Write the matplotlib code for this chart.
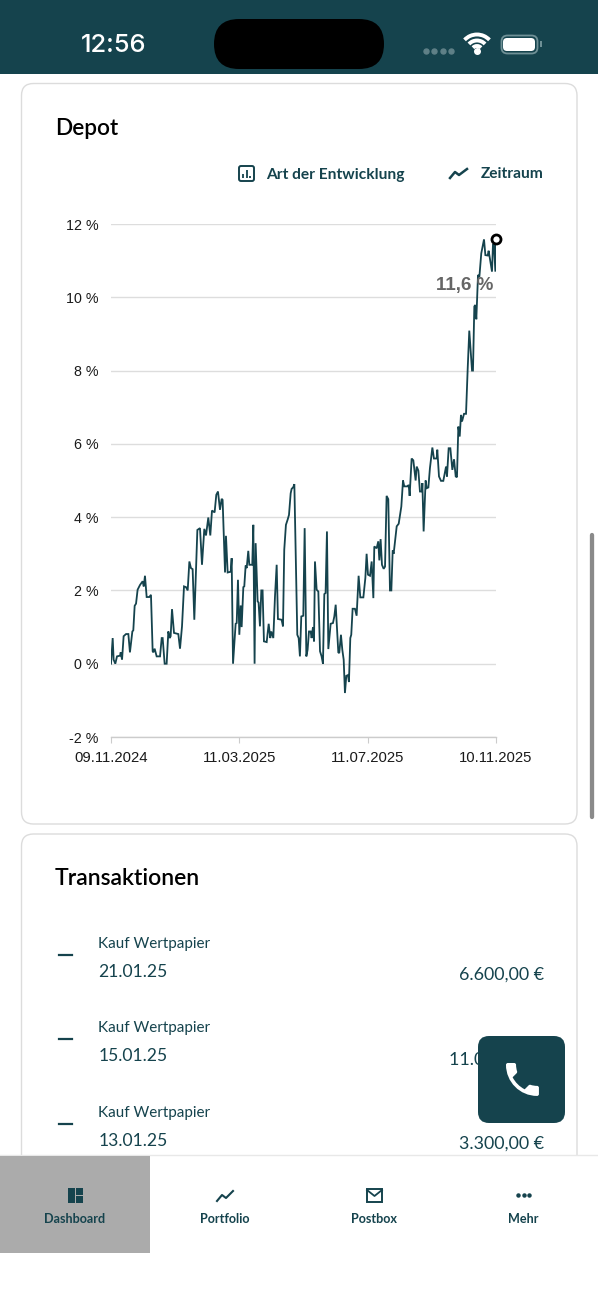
import matplotlib
matplotlib.use("Agg")
import matplotlib.pyplot as plt
from matplotlib.patches import FancyBboxPatch, Rectangle, Arc, PathPatch
from matplotlib.path import Path

TEAL = '#15434d'
UI_FONT = ['Lato', 'Noto Sans', 'DejaVu Sans']
CHART_FONT = ['Liberation Sans', 'DejaVu Sans']

# days since 09.11.2024
days = [0, 1.6, 2.5, 4.1, 5.7, 8.6, 9.2, 10.5, 12, 14.3, 16.5, 18, 20.3, 21.2, 22.5, 23.8, 25.3, 27.6, 30.1, 31.1,
        32.3, 33.9, 36.4, 38, 39.6, 40.2, 41.5, 43.4, 46.6, 48.2, 49.1, 51, 52.9, 54.5, 55.8, 56.7, 58, 59.9, 64, 65.6,
        67.5, 69.4, 71.3, 72.9, 74.5, 76, 77.6, 79.2, 82.1, 84.6, 86.5, 88.7, 90.3, 92.5, 94.4, 96, 98.5, 100.1, 101.7, 103.6,
        105.2, 106.1, 108.4, 109.3, 110.9, 113.8, 114.7, 116, 118.5, 119.5, 120.7, 122, 123.3, 124.2, 125.8, 126.7, 128, 129, 130.5, 131.5,
        134.3, 135.3, 136.5, 137.5, 139.4, 140.3, 141.6, 142.9, 144.1, 145.4, 148, 149.9, 151.4, 152.4, 154.3, 155.9, 157.5, 158.7, 162.2, 163.5,
        164.7, 166.3, 167.9, 169.2, 170.8, 171.7, 173.3, 174.3, 177.1, 178.4, 179.6, 180.9, 182.8, 184.1, 185.7, 186.9, 188.2, 189.8, 190.7, 192,
        193, 193.9, 195.5, 197.1, 198.7, 200.2, 201.5, 202.8, 204, 205.3, 206.6, 208.8, 211, 212.3, 213.6, 216.1, 217, 218.6, 219.9, 221.2,
        222.4, 223.7, 225.3, 226.2, 227.5, 228.4, 229.7, 231.9, 233.5, 235.4, 237, 239.9, 241.8, 243, 244.3, 246.2, 247.8, 249.4, 250.3, 252.5,
        254.1, 255.1, 256.3, 257.6, 259.2, 260.5, 262, 263.6, 265.2, 266.5, 267.8, 268.7, 271.6, 273.5, 276, 277.6, 278.8, 282, 283, 283.9,
        285.8, 287.4, 289.6, 290.6, 292.2, 293.7, 295.6, 296, 297.2, 299.1, 300.1, 301.7, 303.2, 305.5, 307, 309.6, 310.2, 311.8, 313.7, 315.9,
        318.5, 319.4, 321, 322.6, 324.5, 326.1, 327.7, 328.9, 330.2, 331.5, 332.7, 333.7, 335.6, 337.5, 339.1, 340.6, 343.2, 344.1, 345.4, 346.3,
        347.3, 348.9, 350.2, 352, 354.6, 355.9, 358.1, 359, 362.2, 363.1, 364.1, 365.4, 366]
depot = [0, 0.70, 0.11, 0, 0.20, 0.22, 0.31, 0.11, 0.75, 0.81, 0.81, 0.31, 0.88, 0.91, 1.58, 1.64, 2.02, 2.15, 2.25, 2.11,
         2.40, 1.82, 1.82, 1.88, 0.34, 0.31, 0.41, 0.20, 0.20, 0.70, 0.70, 0, 0, 0.88, 0.70, 0.75, 1.49, 0.84, 0.81, 0.41,
         1.02, 2.11, 2.09, 2.00, 2.79, 2.61, 2.58, 1.20, 3.65, 3.70, 2.70, 3.68, 3.50, 3.99, 3.50, 4.18, 4.13, 4.61, 4.70, 4.20,
         4.50, 4.47, 2.49, 3.49, 2.49, 2.51, 2.88, 0, 1.09, 1.11, 2.29, 0.79, 1.59, 1.00, 2.09, 2.11, 2.68, 2.61, 3.08, 2.70,
         2.70, 3.79, 0, 3.29, 1.70, 1.67, 1.02, 2.00, 2.00, 0.61, 0.59, 1.09, 0.70, 0.88, 0.70, 1.84, 2.70, 1.22, 1.20, 1.02,
         3.11, 3.79, 3.93, 4.06, 4.65, 4.77, 4.82, 4.90, 0.79, 0.70, 0.20, 1.29, 1.31, 3.70, 0.20, 0.38, 0.88, 0.88, 0.70, 1.00,
         0.61, 2.79, 2.02, 1.97, 0.34, 0.20, 0, 1.90, 1.93, 3.61, 0.40, 1.09, 1.11, 1.29, 1.61, 0.31, 0.29, 0.79, 0.38, 0.11,
         -0.80, -0.33, -0.31, -0.50, 0.70, 0.79, 1.50, 1.50, 1.31, 2.40, 1.81, 1.81, 2.34, 3.00, 2.43, 2.40, 2.79, 1.79, 3.20, 3.15,
         3.34, 2.82, 3.40, 2.70, 2.59, 2.65, 4.58, 4.49, 2.00, 2.00, 3.09, 3.00, 3.75, 3.82, 4.29, 5.00, 4.84, 4.84, 4.88, 4.58,
         5.60, 5.55, 5.00, 5.38, 5.27, 4.70, 4.70, 4.93, 3.61, 5.00, 4.79, 4.81, 5.34, 5.90, 5.60, 5.60, 5.84, 5.11, 4.99, 4.99,
         5.38, 5.11, 5.88, 5.88, 5.29, 5.58, 5.11, 5.09, 6.47, 6.20, 6.79, 6.61, 6.82, 6.82, 8.06, 9.09, 8.00, 8.00, 9.75, 9.79,
         9.40, 10.61, 10.56, 11.20, 11.58, 11.15, 11.14, 11.27, 10.70, 11.43, 11.43, 10.70, 11.60]

y_ticks = [-2, 0, 2, 4, 6, 8, 10, 12]
y_labels = ['-2 %', '0 %', '2 %', '4 %', '6 %', '8 %', '10 %', '12 %']
x_ticks = [0, 122, 244, 366]
x_labels = ['09.11.2024', '11.03.2025', '11.07.2025', '10.11.2025']
last_label = '11,6 %'

transactions = ['Kauf Wertpapier', 'Kauf Wertpapier', 'Kauf Wertpapier']
trans_dates = ['21.01.25', '15.01.25', '13.01.25']
trans_amounts = ['6.600,00 €', '11.000,00 €', '3.300,00 €']
nav_labels = ['Dashboard', 'Portfolio', 'Postbox', 'Mehr']

# phone glyph on a 24 unit grid
PHONE = [(6.62, 10.79), (8.06, 13.62), (10.38, 15.93), (13.21, 17.38), (15.41, 15.18),
         (15.68, 14.91), (16.08, 14.82), (16.43, 14.94), (17.55, 15.31), (18.76, 15.51), (20, 15.51),
         (20.55, 15.51), (21, 15.96), (21, 16.51), (21, 20), (21, 20.55), (20.55, 21), (20, 21),
         (10.61, 21), (3, 13.39), (3, 4), (3, 3.45), (3.45, 3), (4, 3), (7.5, 3),
         (8.05, 3), (8.5, 3.45), (8.5, 4), (8.5, 5.25), (8.7, 6.45), (9.07, 7.57),
         (9.18, 7.92), (9.1, 8.31), (8.82, 8.59), (6.62, 10.79)]
PHONE_CODES = [Path.MOVETO, Path.CURVE4, Path.CURVE4, Path.CURVE4, Path.LINETO,
               Path.CURVE4, Path.CURVE4, Path.CURVE4, Path.CURVE4, Path.CURVE4, Path.CURVE4,
               Path.CURVE4, Path.CURVE4, Path.CURVE4, Path.LINETO, Path.CURVE4, Path.CURVE4, Path.CURVE4,
               Path.CURVE4, Path.CURVE4, Path.CURVE4, Path.CURVE4, Path.CURVE4, Path.CURVE4, Path.LINETO,
               Path.CURVE4, Path.CURVE4, Path.CURVE4, Path.CURVE4, Path.CURVE4, Path.CURVE4,
               Path.CURVE4, Path.CURVE4, Path.CURVE4, Path.LINETO]

fig = plt.figure(figsize=(5.98, 13), dpi=100, facecolor='white')

# page, in pixel coordinates
ui = fig.add_axes([0, 0, 1, 1])
ui.set_xlim(0, 598)
ui.set_ylim(1300, 0)
ui.axis('off')


def card(x0, y0, x1, y1):
    ui.add_patch(FancyBboxPatch((x0 + 12, y0 + 12), x1 - x0 - 24, y1 - y0 - 24,
                                boxstyle='round,pad=12,rounding_size=12',
                                fc='white', ec='#dcdcdc', lw=1, zorder=1))


card(21.5, 83.5, 577, 824)
card(21.5, 834, 577, 1250)

# status bar
ui.add_patch(Rectangle((0, 0), 598, 73.5, fc=TEAL, ec='none', zorder=5))
ui.add_patch(FancyBboxPatch((232, 37), 134, 14, boxstyle='round,pad=18,rounding_size=25', fc='black', ec='none', zorder=6))
ui.text(113.5, 45.5, '12:56', color='white', fontsize=18.4, family=['Inter', 'DejaVu Sans'], fontweight='medium',
        ha='center', va='center', zorder=6)
ui.plot([426, 434.3, 442.7, 451], [50.7] * 4, ls='none', marker='o', ms=3.6, color='#5f8087', zorder=6)
for r in (17, 11, 5.5):
    ui.add_patch(Arc((477, 51.5), 2 * r, 2 * r, theta1=223, theta2=317, color='white', lw=2.8, zorder=6))
ui.plot([477], [51], marker='o', ms=4, color='white', zorder=6)
ui.add_patch(FancyBboxPatch((506, 40), 27, 9, boxstyle='round,pad=4.5,rounding_size=6', fc='none', ec='#6f9096', lw=1.3, zorder=6))
ui.add_patch(FancyBboxPatch((506, 41), 26, 7, boxstyle='round,pad=3,rounding_size=4', fc='white', ec='none', zorder=6))
ui.add_patch(Rectangle((540, 41), 2, 6, fc='#6f9096', ec='none', zorder=6))

# card headers
ui.text(55, 128.5, 'Depot', color='black', fontsize=16.3, family=UI_FONT, fontweight='semibold', ha='left', va='center', zorder=3)
ui.text(405, 174.5, 'Art der Entwicklung', color=TEAL, fontsize=11.2, family=UI_FONT, fontweight='bold', ha='right', va='center', zorder=3)
ui.text(544, 174.5, 'Zeitraum', color=TEAL, fontsize=11.2, family=UI_FONT, fontweight='bold', ha='right', va='center', zorder=3)
ui.add_patch(FancyBboxPatch((240, 167), 13, 13, boxstyle='round,pad=1,rounding_size=2', fc='none', ec=TEAL, lw=1.4, zorder=3))
ui.vlines([243, 246.5, 250], [174, 170, 176], [178, 178, 178], color=TEAL, lw=1.3, zorder=3)
ui.plot([450, 455, 459, 467], [178, 172, 175, 169], color=TEAL, lw=1.8, zorder=3)

ui.text(55, 878.5, 'Transaktionen', color='black', fontsize=16.5, family=UI_FONT, fontweight='semibold', ha='left', va='center', zorder=3)

# transaction rows
for i, (name, date, amount) in enumerate(zip(transactions, trans_dates, trans_amounts)):
    off = 84.3 * i
    ui.plot([59, 72], [955 + off, 955 + off], color=TEAL, lw=1.6, zorder=2)
    ui.text(98.5, 944 + off, name, color=TEAL, fontsize=11, family=UI_FONT, ha='left', va='center', zorder=2)
    ui.text(98.5, 972 + off, date, color=TEAL, fontsize=12.6, family=UI_FONT, ha='left', va='center', zorder=2)
    ui.text(544, 975 + off, amount, color=TEAL, fontsize=12.9, family=UI_FONT, ha='right', va='center', zorder=2)

# call button
ui.add_patch(FancyBboxPatch((488, 1046), 67, 67, boxstyle='round,pad=10,rounding_size=11', fc=TEAL, ec='none', zorder=7))
ui.add_patch(PathPatch(Path([(500.5 + 1.83 * x, 1057.5 + 1.83 * y) for x, y in PHONE], PHONE_CODES),
                       fc='white', ec='none', zorder=8))

# bottom navigation
ui.add_patch(Rectangle((0, 1155), 598, 145, fc='white', ec='none', zorder=4))
ui.plot([0, 598], [1155, 1155], color='#e8e8e8', lw=1, zorder=5)
ui.add_patch(Rectangle((0, 1156), 150, 97, fc='#ababab', ec='none', zorder=5))
for x, label in zip([75, 224.5, 374, 523], nav_labels):
    ui.text(x, 1219, label, color=TEAL, fontsize=9.1, family=UI_FONT, fontweight='bold', ha='center', va='center', zorder=6)
ui.add_patch(Rectangle((68, 1188), 6.5, 15, fc=TEAL, ec='none', zorder=6))
ui.add_patch(Rectangle((76, 1188), 6.5, 6.5, fc=TEAL, ec='none', zorder=6))
ui.add_patch(Rectangle((76, 1196), 6.5, 7, fc=TEAL, ec='none', zorder=6))
ui.plot([217, 222, 226, 233], [1201, 1195, 1198, 1191], color=TEAL, lw=1.5, zorder=6)
ui.add_patch(Rectangle((367, 1188.5), 15, 13, fc='none', ec=TEAL, lw=1.4, zorder=6))
ui.plot([367, 374.5, 382], [1190, 1196, 1190], color=TEAL, lw=1.3, zorder=6)
ui.plot([518, 523.5, 529], [1195, 1195, 1195], ls='none', marker='o', ms=2.2, color=TEAL, zorder=6)

# scroll indicator
ui.plot([591.7, 591.7], [535, 817], color='#8a8a8a', lw=3.1, solid_capstyle='round', zorder=3)

# chart
ax = fig.add_axes([111 / 598, 1 - 737 / 1300, 385 / 598, 513 / 1300], facecolor='none')
ax.plot(days, depot, color=TEAL, lw=1.3, solid_joinstyle='miter', zorder=3)
ax.plot(days[-1], depot[-1], marker='o', ms=6.5, mfc='white', mec='black', mew=2, clip_on=False, zorder=5)
ax.annotate(last_label, (days[-1], depot[-1]), xytext=(-3, -47), textcoords='offset pixels', color='#666666',
            fontsize=13.5, fontweight='bold', family=CHART_FONT, ha='right', va='center', zorder=4)

ax.set_xlim(0, 366)
ax.set_ylim(-2, 12)
ax.set_xticks(x_ticks)
ax.set_xticklabels(x_labels, family=CHART_FONT, fontsize=10.7, color='#1a1a1a')
ax.set_yticks(y_ticks)
ax.set_yticklabels(y_labels, family=CHART_FONT, fontsize=10.3, color='#1a1a1a')
ax.tick_params(axis='x', length=4, width=0.8, color='#cccccc', pad=6)
ax.tick_params(axis='y', length=0, pad=9)
ax.grid(axis='y', color='#dddddd', lw=1)
ax.set_axisbelow(True)
for side in ['top', 'left', 'right']:
    ax.spines[side].set_visible(False)
ax.spines['bottom'].set_color('#cccccc')
ax.spines['bottom'].set_linewidth(1)

fig.savefig('out.png', dpi=100)
